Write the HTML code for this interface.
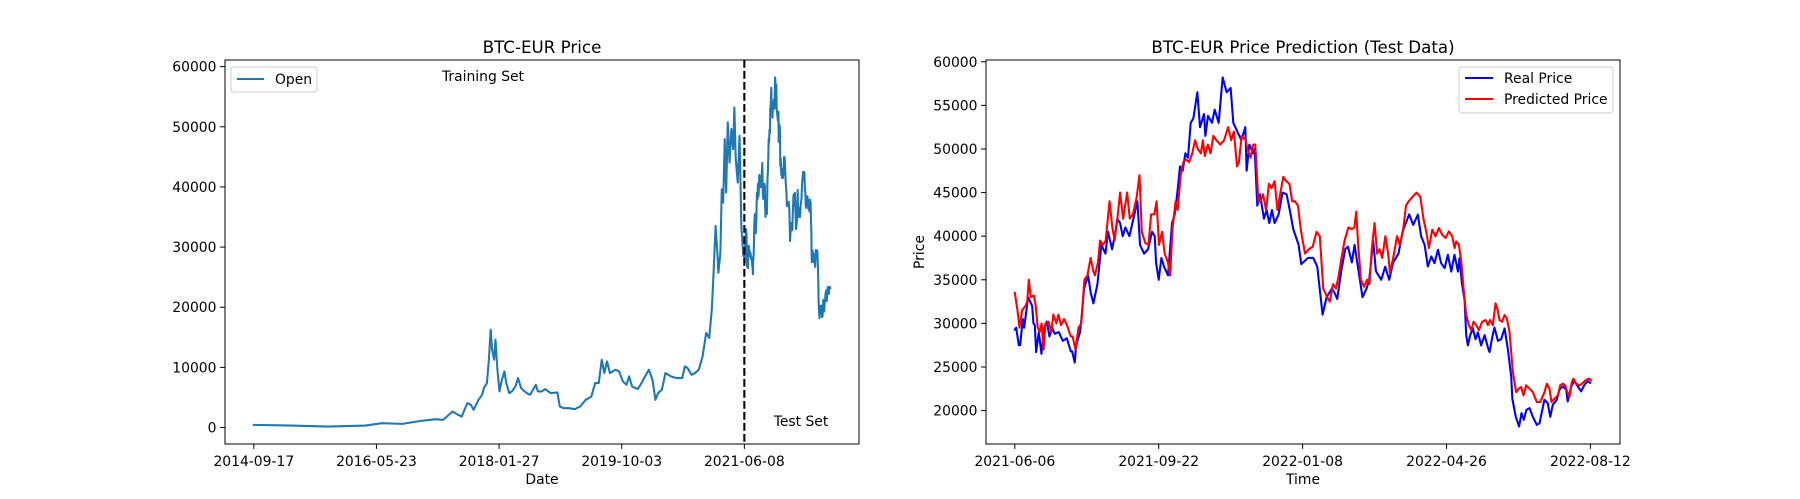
<!DOCTYPE html>
<html><head><meta charset="utf-8"><title>BTC-EUR</title>
<style>
html,body{margin:0;padding:0;background:#fff;}
svg{display:block;font-family:"DejaVu Sans","Liberation Sans",sans-serif;}
</style></head>
<body>
<svg id="fig" width="1800" height="499" viewBox="0 0 1800 499" xmlns="http://www.w3.org/2000/svg">
  <rect x="0" y="0" width="1800" height="499" fill="#fff"/>
  <g id="left"></g>
  <g id="right"></g>
</svg>
<script>
// ---- Left chart data (days since 2014-09-17, EUR) ----
const trainDays = [0,188,373,559,642,744,837,911,948,995,1023,1041,1069,1087,1100,1125,1143,1152,1167,1177,1186,1193,1203,1210,1219,1230,1242,1255,1264,1279,1292,1310,1323,1338,1366,1384,1412,1422,1440,1459,1486,1520,1532,1551,1579,1607,1634,1662,1690,1709,1727,1742,1755,1768,1783,1811,1829,1848,1866,1879,1894,1922,1941,1959,1978,1996,2011,2024,2043,2061,2089,2117,2145,2158,2172,2191,2209,2228,2247,2265,2280,2293,2302,2312,2321,2326,2336,2343,2350,2358,2365,2373,2382,2391,2400,2406,2413,2423,2432,2441,2451];
const trainOpen = [444,333,167,333,722,611,1111,1389,1278,2667,2111,1833,4056,3778,2945,4611,5445,6556,7389,11278,16279,12945,11278,14612,9890,6000,7945,9334,7389,5723,6000,6834,8223,6556,5723,5445,7112,6000,6000,6389,5723,5834,3500,3222,3222,3056,3500,4611,5167,7389,7389,11278,9056,11001,9056,9612,9334,7667,7112,8501,6834,6389,7389,8501,9612,7945,4611,5723,6278,9056,8501,8223,8223,10167,9890,8778,9056,9612,11834,15723,14890,19612,25723,33502,29057,25723,29057,39613,37391,47947,39058,50725,44058,49614,46280,53226,44614,40725,48503,33502,28502];
const testOffsetDays = 2454;   // 2021-06-06
const splitDay = 2456;         // 2021-06-08
const leftXTicks = [0,614,1228,1842,2456];
const leftXLabels = ["2014-09-17","2016-05-23","2018-01-27","2019-10-03","2021-06-08"];
const leftYTicks = [0,10000,20000,30000,40000,50000,60000];

// ---- Right chart data (days since 2021-06-06, EUR) ----
const realDays = [0,1,3,4,6,7,10,13,14,15,16,18,20,22,24,26,28,30,33,36,39,42,43,45,46,49,50,52,55,57,59,62,64,65,68,70,73,75,77,79,81,83,86,89,92,94,97,100,103,105,106,108,110,112,115,118,120,122,124,126,128,130,132,134,137,139,142,143,145,148,150,153,156,159,162,164,167,170,173,174,176,179,180,182,184,187,189,191,193,195,198,201,204,207,209,213,215,220,224,227,231,234,238,240,242,245,248,250,253,255,258,261,264,266,269,271,275,278,281,284,288,291,296,299,302.5,305,307.6,310,312.6,315,317.6,320,322.6,325,327.6,330,332.6,333.8,335.6,337.6,338.8,340,341.8,343.8,345.8,347.6,350,352.6,355,356.3,358.3,360,362.6,365,367.6,370,372.6,373.4,376,378.5,380.3,382,384,386.3,388.8,391.8,393.8,397.5,400,401.9,403.8,406.8,408.8,411.3,413.8,415,417.6,420,422.6,425,427.6,430,431.8];
const realPrice = [29300,29500,27500,27500,30500,29500,33000,32000,30000,29800,26700,29000,26500,29500,30200,28500,29500,28800,29000,28000,28300,26800,26800,25500,27500,29000,30500,34000,35500,33500,32300,34500,37500,39000,38000,40500,38500,40000,42000,41500,40000,41000,40000,42000,44000,39000,38000,38500,40500,40000,37000,35000,37500,36500,35500,41500,42500,45000,48000,47500,49500,49000,53000,53500,56500,52500,54000,51500,53800,53000,54500,53000,58200,56500,57000,53000,52000,51000,52500,47500,50500,49500,50000,43500,44800,42000,43000,41500,43000,41500,42500,45000,44800,42500,40800,39000,36800,37500,37500,36500,31000,33000,34000,33500,32800,36000,38500,38800,37000,39000,36000,33000,34000,35000,39500,36000,35000,36500,35000,37000,38000,40500,42500,41300,42470,39970,39000,36530,37670,36900,38440,36900,36330,37870,35940,37870,35940,37490,34560,32640,28650,27480,28650,29420,28190,28960,27480,28650,27290,26710,28380,29530,28000,28190,29420,27100,23870,21370,19290,18170,19700,18940,20080,20280,19290,18360,18550,21240,20860,19290,20660,21240,22400,22770,22400,21050,22770,23390,22770,22200,22960,23390,23190];
const predDays = [0,2,3.5,5.5,8,9.3,10.5,12,14.3,15.7,17.2,18.7,20.1,21.6,23,25.4,27.4,28.9,31.2,32.7,34.7,37,39.1,42,43.4,45.5,47.8,49.9,52.2,54.5,56.9,58.9,60.1,62.4,64,66.2,68.2,71.1,73.2,74.9,77,79,81.3,84.3,86.3,88.6,90.1,91.5,93.6,95.3,98,100.3,102.3,104.7,106.4,108.2,110.5,112.5,114.9,116.6,118.4,120.7,122.2,124.5,126.5,128.6,130.9,133.2,135.3,137.3,139.7,141.1,142.6,144.9,146.9,149,151.3,154.2,157.1,160.1,162.4,164.4,166.8,168.2,170.3,173.2,174.6,177,179,180.5,182.8,184.3,186.3,188.6,190.7,192.7,195,197.1,199.4,201.5,203.8,206.1,208.2,210.2,212.5,214.9,217.8,220.7,223.6,226.5,228.9,231.5,234.4,236.4,238.8,241.1,243.1,245.2,247.5,250.4,252.8,254.8,256.3,257.7,259.8,262.1,264.4,266.2,267.9,270,272,273.8,275.8,278.1,280.2,281.6,284,286.9,288.9,291.3,293.6,295.6,298.5,301.5,304.4,306.8,308.8,310.8,313.3,315.8,318.3,320.8,323.3,325.8,328.3,330.1,331.3,333.3,335.1,336.8,338.8,340.8,342.6,344.3,346.3,348.3,350.8,353.3,355.1,356.8,358.8,360.8,362.1,363.8,365.8,367.6,369.3,371.3,373.8,376.3,378.3,380.1,381.8,383.8,386.3,388.8,391.8,394.3,397.6,399.3,401.3,402.8,405.1,407.6,409.3,411.3,413.1,414.6,416.3,418.1,419.3,421.3,423.8,425.8,428.3,430.8,432.6];
const predPrice = [33500,31500,29500,31500,32000,32500,35000,33000,33200,32000,29500,29000,30000,27000,30000,30200,29000,31000,30000,31000,29800,30500,29800,28500,28500,27000,29500,30000,35000,35500,37500,36000,35500,37000,39500,39000,39500,44000,41000,39500,42000,45000,42000,45000,42000,42500,43500,44500,47000,40500,39200,39000,42500,42500,44000,39000,40500,38000,37000,35500,41000,44000,43000,47000,48500,48800,48500,49500,51000,50000,49500,51000,49200,50500,49500,51500,51000,50500,51000,52500,51000,52000,48000,48500,51500,51000,50000,49000,50500,50500,44000,44000,44800,43000,46000,45500,46300,43000,45000,46800,46300,46000,44000,44000,43500,40500,38000,38500,38800,40500,40000,34000,33000,32500,34500,34000,35500,37500,39500,41000,40800,41000,42800,39000,35000,34200,35000,34500,38500,41500,38000,38500,37500,40000,38000,35800,37500,40000,39000,40500,43500,44000,44500,45000,44500,41894,40551,38632,40743,39975,40935,40167,39783,40551,39975,38632,39399,39015,37096,34025,30954,29803,29227,30186,29803,29227,30186,30378,29803,30378,29803,32298,31722,30378,30186,30954,30570,29035,24428,22125,22509,22701,21741,22893,22509,22125,20973,20973,22125,23085,22509,20973,21357,21741,22893,23085,22893,22125,21549,23277,23661,23085,22893,23085,23469,23661,23469];
const rightXTicks = [0,108,216,324,432];
const rightXLabels = ["2021-06-06","2021-09-22","2022-01-08","2022-04-26","2022-08-12"];
const rightYTicks = [20000,25000,30000,35000,40000,45000,50000,55000,60000];

const NS = "http://www.w3.org/2000/svg";
function mk(parent, tag, attrs, text) {
  const e = document.createElementNS(NS, tag);
  for (const k in attrs) e.setAttribute(k, attrs[k]);
  if (text !== undefined) e.textContent = text;
  parent.appendChild(e);
  return e;
}
function scale(d0, d1, r0, r1) { return v => r0 + (v - d0) / (d1 - d0) * (r1 - r0); }

const TOP = 60, BOT = 444, FS = 13.9;

function axes(g, L, R, x, y, xt, xl, yt, title, xlabel, ylabel) {
  const frame = mk(g, "rect", {x: L, y: TOP, width: R - L, height: BOT - TOP, fill: "none", stroke: "#000", "stroke-width": 1});
  
  
  xt.forEach((t, i) => {
    const px = x(t);
    const tk = mk(g, "line", {x1: px, x2: px, y1: BOT, y2: BOT + 4.9, stroke: "#000", "stroke-width": 1});
    
    
    const lb = mk(g, "text", {x: px, y: BOT + 22, "font-size": FS, "text-anchor": "middle", fill: "#000"}, xl[i]);
    
    
  });
  yt.forEach(t => {
    const py = y(t);
    const tk = mk(g, "line", {x1: L - 4.9, x2: L, y1: py, y2: py, stroke: "#000", "stroke-width": 1});
    
    
    const lb = mk(g, "text", {x: L - 8.5, y: py + 5, "font-size": FS, "text-anchor": "end", fill: "#000"}, String(t));
    
    
  });
  const tt = mk(g, "text", {x: (L + R) / 2, y: TOP - 7, "font-size": 16.7, "text-anchor": "middle", fill: "#000"}, title);
  
  
  const xa = mk(g, "text", {x: (L + R) / 2, y: 484, "font-size": FS, "text-anchor": "middle", fill: "#000"}, xlabel);
  
  
  if (ylabel) {
    const cx = L - 62, cy = (TOP + BOT) / 2;
    const ya = mk(g, "text", {x: cx, y: cy, "font-size": FS, "text-anchor": "middle", fill: "#000", transform: `rotate(-90 ${cx} ${cy})`}, ylabel);
    
    
  }
}
function path(g, xs, ys, x, y, color) {
  let d = "";
  xs.forEach((v, i) => { d += (i ? "L" : "M") + x(v).toFixed(2) + "," + y(ys[i]).toFixed(2); });
  return mk(g, "path", {d: d, fill: "none", stroke: color, "stroke-width": 2.08, "stroke-linejoin": "round", "stroke-linecap": "square"});
}

// ---------- LEFT ----------
(function () {
  const g = document.getElementById("left");
  const L = 225, R = 859;
  const allDays = trainDays.concat(realDays.map(d => d + testOffsetDays));
  const allVals = trainOpen.concat(realPrice);
  const dmin = Math.min(...allDays), dmax = Math.max(...allDays);
  const vmin = Math.min(...allVals), vmax = Math.max(...allVals);
  const x = scale(dmin - 0.05 * (dmax - dmin), dmax + 0.05 * (dmax - dmin), L, R);
  const y = scale(vmin - 0.05 * (vmax - vmin), vmax + 0.05 * (vmax - vmin), BOT, TOP);
  axes(g, L, R, x, y, leftXTicks, leftXLabels, leftYTicks, "BTC-EUR Price", "Date", null);
  const ln = path(g, allDays, allVals, x, y, "#1f77b4");
  
  
  const sx = x(splitDay);
  const dl = mk(g, "line", {x1: sx, x2: sx, y1: TOP, y2: BOT, stroke: "#000", "stroke-width": 2.08, "stroke-dasharray": "7.7,3.3"});
  
  
  const t1 = mk(g, "text", {x: 483, y: 81, "font-size": FS, "text-anchor": "middle", fill: "#000"}, "Training Set");
  
  
  const t2 = mk(g, "text", {x: 801, y: 426, "font-size": FS, "text-anchor": "middle", fill: "#000"}, "Test Set");
  
  
  const lg = mk(g, "g", {});
  
  
  mk(lg, "rect", {x: 231, y: 67, width: 86, height: 25, rx: 3, fill: "#fff", "fill-opacity": 0.8, stroke: "#ccc", "stroke-width": 1});
  mk(lg, "line", {x1: 237, x2: 264, y1: 79, y2: 79, stroke: "#1f77b4", "stroke-width": 2.08});
  const le = mk(lg, "text", {x: 275, y: 84, "font-size": FS, fill: "#000"}, "Open");
  
  
})();

// ---------- RIGHT ----------
(function () {
  const g = document.getElementById("right");
  const L = 986, R = 1620;
  const allD = realDays.concat(predDays), allV = realPrice.concat(predPrice);
  const dmin = Math.min(...allD), dmax = Math.max(...allD);
  const vmin = Math.min(...allV), vmax = Math.max(...allV);
  const x = scale(dmin - 0.05 * (dmax - dmin), dmax + 0.05 * (dmax - dmin), L, R);
  const y = scale(vmin - 0.05 * (vmax - vmin), vmax + 0.05 * (vmax - vmin), BOT, TOP);
  axes(g, L, R, x, y, rightXTicks, rightXLabels, rightYTicks, "BTC-EUR Price Prediction (Test Data)", "Time", "Price");
  const r = path(g, realDays, realPrice, x, y, "#0000ff");
  
  
  const p = path(g, predDays, predPrice, x, y, "#ff0000");
  
  
  const lg = mk(g, "g", {});
  
  
  mk(lg, "rect", {x: 1459, y: 67, width: 154, height: 46, rx: 3, fill: "#fff", "fill-opacity": 0.8, stroke: "#ccc", "stroke-width": 1});
  mk(lg, "line", {x1: 1465, x2: 1493, y1: 78, y2: 78, stroke: "#0000ff", "stroke-width": 2.08});
  const a = mk(lg, "text", {x: 1504, y: 83, "font-size": FS, fill: "#000"}, "Real Price");
  
  
  mk(lg, "line", {x1: 1465, x2: 1493, y1: 99, y2: 99, stroke: "#ff0000", "stroke-width": 2.08});
  const b = mk(lg, "text", {x: 1504, y: 104, "font-size": FS, fill: "#000"}, "Predicted Price");
  
  
})();
</script>
</body></html>
